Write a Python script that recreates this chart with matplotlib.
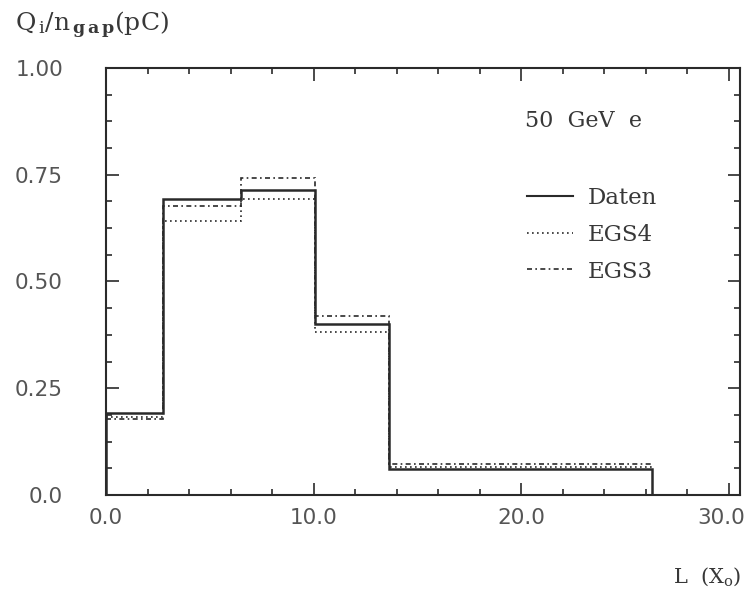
import matplotlib
matplotlib.use("Agg")
import matplotlib.pyplot as plt
import matplotlib.transforms as mtransforms
from matplotlib.lines import Line2D
from matplotlib.ticker import MultipleLocator

# bin edges in radiation lengths and charge per gap (pC)
edges = [0.0, 2.75, 6.5, 10.05, 13.65, 26.3]
daten = [0.193, 0.692, 0.714, 0.401, 0.060]
egs4 = [0.182, 0.642, 0.692, 0.381, 0.066]
egs3 = [0.178, 0.677, 0.742, 0.420, 0.072]

x_ticks = [0, 10, 20, 30]
x_tick_labels = ["0.0", "10.0", "20.0", "30.0"]
y_ticks = [0.0, 0.25, 0.5, 0.75, 1.0]
y_tick_labels = ["0.0", "0.25", "0.50", "0.75", "1.00"]

INK = "#2a2a2a"
TXT = "#383838"
TICK_TXT = "#555555"
plt.rcParams["mathtext.fontset"] = "dejavuserif"

fig = plt.figure(figsize=(7.45, 5.95), dpi=100, facecolor="white")
ax = fig.add_axes([0.1423, 0.168, 0.851, 0.718])

ax.stairs(daten, edges, baseline=0, color=INK, lw=1.8, label="Daten")
ax.stairs(egs4, edges, baseline=None, color=INK, lw=1.2,
          linestyle=(0, (1, 2)), label="EGS4")
ax.stairs(egs3, edges, baseline=None, color=INK, lw=1.2,
          linestyle=(0, (3, 2, 1, 2)), label="EGS3")

ax.set_xlim(0, 30.55)
ax.set_ylim(0, 1.0)

ax.set_xticks(x_ticks)
ax.set_xticklabels(x_tick_labels)
ax.set_yticks(y_ticks)
ax.set_yticklabels(y_tick_labels)
ax.xaxis.set_minor_locator(MultipleLocator(2))
ax.yaxis.set_minor_locator(MultipleLocator(0.0625))

ax.tick_params(which="both", direction="in", top=True, right=True,
               color=INK, width=1.2)
ax.tick_params(which="major", length=9)
ax.tick_params(which="minor", length=4.5)
ax.tick_params(axis="x", which="major", pad=9, labelsize=15.5,
               labelcolor=TICK_TXT)
ax.tick_params(axis="y", which="major", pad=31, labelsize=15.5,
               labelcolor=TICK_TXT)

# the last x label sits flush with the right border of the figure
last = ax.get_xticklabels()[-1]
last.set_transform(last.get_transform() +
                   mtransforms.ScaledTranslation(-7 / 100, 0, fig.dpi_scale_trans))

for sp in ax.spines.values():
    sp.set_color(INK)
    sp.set_linewidth(1.5)

serif = "DejaVu Serif"
fig.text(0.02, 0.958, r"Q$_{\,\mathrm{i}}$/n$_{\,\mathbf{g\,a\,p}}$(pC)",
         fontsize=18, family=serif, color=TXT, va="center", ha="left")
fig.text(0.995, 0.030, r"L  (X$_\mathrm{o}$)", fontsize=15, family=serif,
         color=TXT, va="center", ha="right")
ax.text(0.661, 0.875, "50  GeV  e", transform=ax.transAxes, fontsize=16,
        family=serif, color=TXT, va="center", ha="left")

handles = [
    Line2D([], [], color=INK, lw=1.5),
    Line2D([], [], color=INK, lw=1.2, linestyle=(0, (1, 2))),
    Line2D([], [], color=INK, lw=1.2, linestyle=(0, (3, 2, 1, 2))),
]
leg = ax.legend(handles, ["Daten", "EGS4", "EGS3"], loc="upper left",
                bbox_to_anchor=(0.632, 0.77), frameon=False,
                handlelength=2.0, handletextpad=0.65, labelspacing=0.65,
                prop={"family": serif, "size": 16.5})
for t in leg.get_texts():
    t.set_color(TXT)

fig.savefig("out.png", dpi=100, facecolor="white")
